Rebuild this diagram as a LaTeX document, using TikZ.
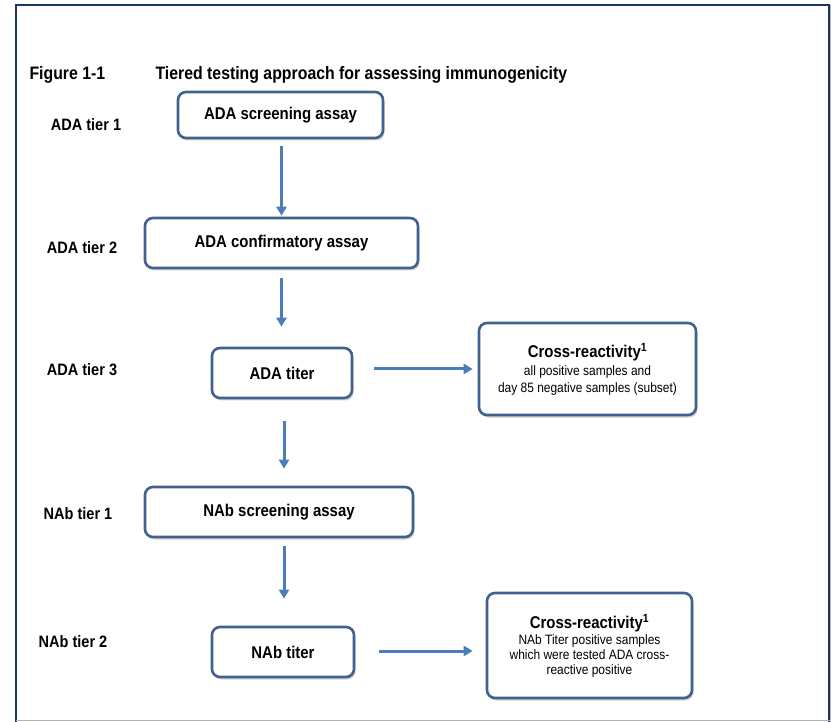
\documentclass[tikz,border=0pt]{standalone}
\usepackage{fontspec}
\setmainfont{Liberation Sans}[FakeStretch=0.88]
\usetikzlibrary{shadows,arrows.meta}
\definecolor{navy}{HTML}{1B3566}
\definecolor{boxc}{HTML}{41618E}
\definecolor{arrc}{HTML}{4A7DBA}
\newcommand\subtxt{\fontsize{13.6}{16}\selectfont\mdseries}
\begin{document}
\begin{tikzpicture}[x=1pt,y=-1pt,
  box/.style={draw=boxc, line width=2.6pt, rounded corners=8pt, fill=white, align=center, inner sep=0pt,
    font=\fontsize{17}{20}\selectfont\bfseries,
    drop shadow={shadow xshift=1.5pt, shadow yshift=-2.5pt, opacity=0.35, fill=gray}},
  tier/.style={font=\fontsize{16.5}{19}\selectfont\bfseries},
  ttl/.style={anchor=west, font=\fontsize{18}{21}\selectfont\bfseries},
  arr/.style={draw=arrc, line width=3pt, -{Triangle[length=9pt,width=10pt]}}]
\useasboundingbox (0,0) rectangle (831,722);
% frame
\draw[navy, line width=2.8pt] (16,724) -- (16,5) -- (829,5) -- (829,724);
\draw[gray!60, line width=1.2pt] (16,720.8) -- (831,720.8);
\draw[gray!60, line width=1pt] (830.8,5) -- (830.8,722);
% title
\node[ttl] (fig) at (26,75) {Figure 1-1};
\node[ttl] (title) at (152,75) {Tiered testing approach for assessing immunogenicity};
% tier labels
\node[tier] (t1) at (86,125) {ADA tier 1};
\node[tier] (t2) at (82,248) {ADA tier 2};
\node[tier] (t3) at (82,370) {ADA tier 3};
\node[tier] (t4) at (78,514) {NAb tier 1};
\node[tier] (t5) at (73,642) {NAb tier 2};
% boxes
\node[box, minimum width=205pt, minimum height=46pt] (b1) at (280.5,115) {ADA screening assay};
\node[box, minimum width=273pt, minimum height=50pt] (b2) at (281.5,243) {ADA confirmatory assay};
\node[box, minimum width=140pt, minimum height=50pt] (b3) at (282,373) {ADA titer};
\node[box, minimum width=268pt, minimum height=50pt] (b4) at (279,512) {NAb screening assay};
\node[box, minimum width=142pt, minimum height=50pt] (b5) at (283,652) {NAb titer};
\node[box, minimum width=217pt, minimum height=92pt] (c1) at (587.5,369) {Cross-reactivity\textsuperscript{1}\\[-2pt]
  {\subtxt all positive samples and}\\[-3pt]
  {\subtxt day 85 negative samples (subset)}};
\node[box, minimum width=205pt, minimum height=105pt] (c2) at (589.5,645.5) {Cross-reactivity\textsuperscript{1}\\[-4pt]
  {\subtxt NAb Titer positive samples}\\[-5pt]
  {\subtxt which were tested ADA cross-}\\[-5pt]
  {\subtxt reactive positive}};
% arrows
\draw[arr] ([xshift=1pt,yshift=-7pt]b1.south) -- ([yshift=1pt]b2.north);
\draw[arr] ([yshift=-9pt]b2.south) -- ([xshift=-0.5pt,yshift=20pt]b3.north);
\draw[arr] ([xshift=2pt,yshift=-22pt]b3.south) -- ([xshift=5pt,yshift=17pt]b4.north);
\draw[arr] ([xshift=5pt,yshift=-8pt]b4.south) -- ([xshift=1pt,yshift=27pt]b5.north);
\draw[arr] ([xshift=21pt,yshift=4pt]b3.east) -- ([xshift=-5pt,yshift=0pt]c1.west);
\draw[arr] ([xshift=24pt,yshift=1pt]b5.east) -- ([xshift=-13pt,yshift=-5.5pt]c2.west);
\end{tikzpicture}
\end{document}
